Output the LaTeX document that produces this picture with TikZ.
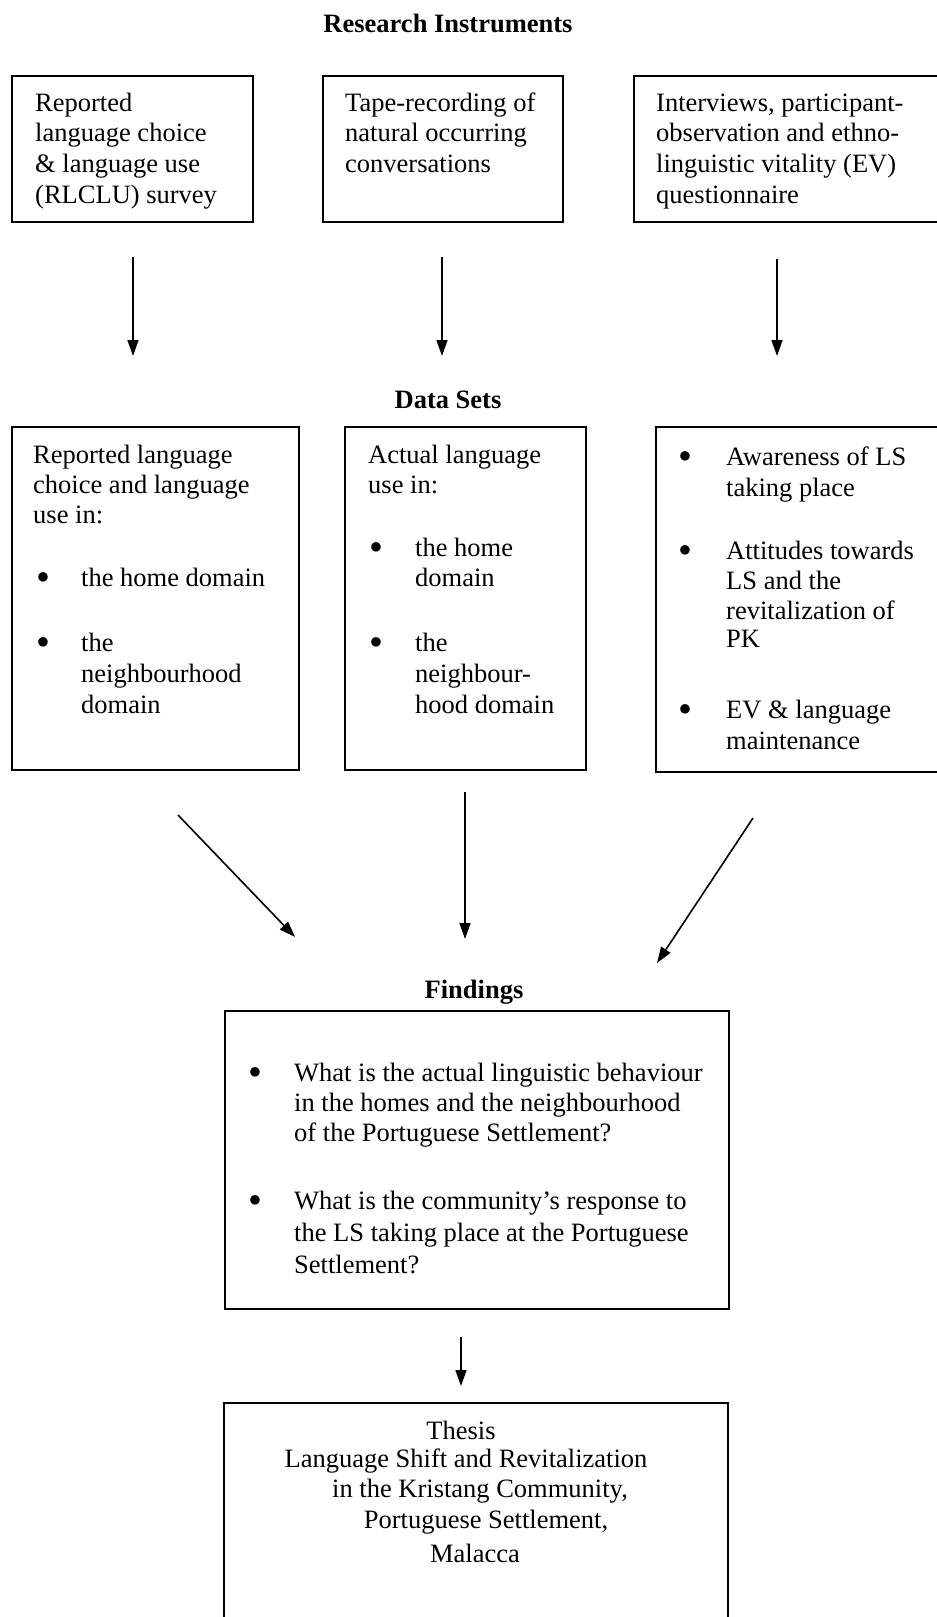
\documentclass[tikz,border=0pt]{standalone}
\usepackage{fontspec}
\setmainfont{Liberation Serif}
\usetikzlibrary{arrows.meta}
\newcommand\tl[4]{\node[txt,anchor=mid west,yshift=-4pt] (#1) at (#2,#3) {#4};}
\newcommand\tb[3]{\node[txt,anchor=mid west,yshift=-8pt] (#1) at (#2,#3) {\scalebox{1.5}{\textbullet}};}
\begin{document}
\begin{tikzpicture}[x=1pt,y=-1pt,
  txt/.style={inner sep=0pt,font=\fontsize{26.5}{32}\selectfont},
  ttl/.style={inner sep=0pt,font=\fontsize{26.5}{32}\selectfont\bfseries},
  boxn/.style={rectangle,draw,line width=2.4pt,inner sep=0pt},
  openbox/.style={rectangle,draw=none,inner sep=0pt},
  edge/.style={line width=2.4pt},
  arr/.style={line width=1.6pt,-{Triangle[length=16pt,width=11pt]}}]
\useasboundingbox (0,0) rectangle (937,1617);
\fill[white] (0,0) rectangle (937,1617);

% titles
\node[ttl] (ri) at (448,23) {Research Instruments};
\node[ttl] (ds) at (448,400) {Data Sets};
\node[ttl] (fd) at (474,992) {Findings};

% top boxes
\node[boxn,minimum width=241pt,minimum height=146pt] (b1) at (132.5,149) {};
\node[boxn,minimum width=240pt,minimum height=146pt] (b2) at (443,149) {};
\node[openbox,minimum width=304pt,minimum height=146pt] (b3) at (786,149) {};
\draw[edge] (b3.north east) -- (b3.north west) -- (b3.south west) -- (b3.south east);

\tl{t11}{35}{105}{Reported}
\tl{t12}{35}{135}{language choice}
\tl{t13}{35}{166}{\& language use}
\tl{t14}{35}{197}{(RLCLU) survey}

\tl{t21}{345}{105}{Tape-recording of}
\tl{t22}{345}{135}{natural occurring}
\tl{t23}{345}{166}{conversations}

\tl{t31}{656}{105}{Interviews, participant-}
\tl{t32}{656}{135}{observation and ethno-}
\tl{t33}{656}{166}{linguistic vitality (EV)}
\tl{t34}{656}{197}{questionnaire}

% arrows to data sets
\coordinate (a1s) at (133,257); \coordinate (a1e) at (133,356);
\coordinate (a2s) at (442,257); \coordinate (a2e) at (442,356);
\coordinate (a3s) at (777,259); \coordinate (a3e) at (777,356);
\draw[arr] (a1s) -- (a1e);
\draw[arr] (a2s) -- (a2e);
\draw[arr] (a3s) -- (a3e);

% data set boxes
\node[boxn,minimum width=287pt,minimum height=343pt] (b4) at (155.5,598.5) {};
\node[boxn,minimum width=241pt,minimum height=343pt] (b5) at (465.5,598.5) {};
\node[openbox,minimum width=282pt,minimum height=345pt] (b6) at (797,599.5) {};
\draw[edge] (b6.north east) -- (b6.north west) -- (b6.south west) -- (b6.south east);

\tl{t41}{33}{457}{Reported language}
\tl{t42}{33}{487}{choice and language}
\tl{t43}{33}{517}{use in:}
\tb{u41}{36}{580}
\tl{t44}{81}{580}{the home domain}
\tb{u42}{36}{645}
\tl{t45}{81}{645}{the}
\tl{t46}{81}{676}{neighbourhood}
\tl{t47}{81}{707}{domain}

\tl{t51}{368}{457}{Actual language}
\tl{t52}{368}{487}{use in:}
\tb{u51}{369}{550}
\tl{t53}{415}{550}{the home}
\tl{t54}{415}{580}{domain}
\tb{u52}{369}{645}
\tl{t55}{415}{645}{the}
\tl{t56}{415}{676}{neighbour-}
\tl{t57}{415}{707}{hood domain}

\tb{u61}{678}{459}
\tl{t61}{726}{459}{Awareness of LS}
\tl{t62}{726}{490}{taking place}
\tb{u62}{678}{553}
\tl{t63}{726}{553}{Attitudes towards}
\tl{t64}{726}{583}{LS and the}
\tl{t65}{726}{613}{revitalization of}
\tl{t66}{726}{641}{PK}
\tb{u63}{678}{712}
\tl{t67}{726}{712}{EV \& language}
\tl{t68}{726}{743}{maintenance}

% arrows to findings
\coordinate (a4s) at (178,815); \coordinate (a4e) at (295,937);
\coordinate (a5s) at (465,792); \coordinate (a5e) at (465,939);
\coordinate (a6s) at (753,818); \coordinate (a6e) at (657,963);
\draw[arr] (a4s) -- (a4e);
\draw[arr] (a5s) -- (a5e);
\draw[arr] (a6s) -- (a6e);

% findings box
\node[boxn,minimum width=504pt,minimum height=298pt] (fb) at (477,1160) {};
\tb{u71}{248}{1075}
\tl{t71}{294}{1075}{What is the actual linguistic behaviour}
\tl{t72}{294}{1105}{in the homes and the neighbourhood}
\tl{t73}{294}{1135}{of the Portuguese Settlement?}
\tb{u72}{248}{1203}
\tl{t74}{294}{1203}{What is the community’s response to}
\tl{t75}{294}{1235}{the LS taking place at the Portuguese}
\tl{t76}{294}{1267}{Settlement?}

% arrow to thesis
\coordinate (a7s) at (461,1337); \coordinate (a7e) at (461,1386);
\draw[arr] (a7s) -- (a7e);

% thesis box (open at bottom)
\node[openbox,minimum width=504pt,minimum height=216pt] (thb) at (476,1511) {};
\draw[edge] (thb.south west) -- (thb.north west) -- (thb.north east) -- (thb.south east);
\node[txt] (th1) at (461,1430) {Thesis};
\node[txt] (th2) at (466,1461) {Language Shift and Revitalization};
\node[txt] (th3) at (480,1491) {in the Kristang Community,};
\node[txt] (th4) at (486,1522) {Portuguese Settlement,};
\node[txt] (th5) at (475,1553) {Malacca};
\end{tikzpicture}
\end{document}
